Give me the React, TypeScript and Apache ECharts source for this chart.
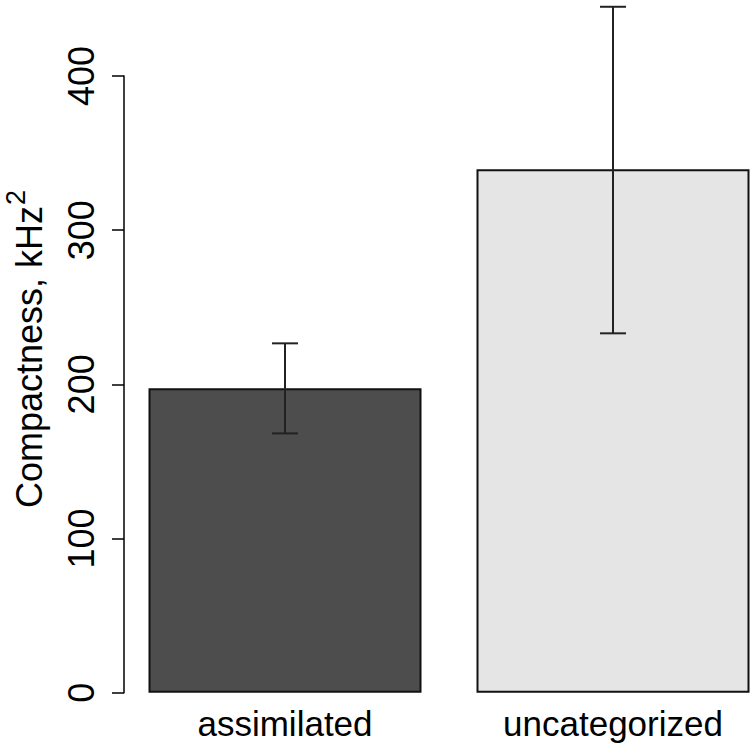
import React, { useEffect, useRef } from "react";
import * as echarts from "echarts";

const categories = ["assimilated", "uncategorized"];
const means = [197.4, 339.5];
const lowerErr = [168.2, 233.1];
const upperErr = [226.6, 444.9];
const barColors = ["#4d4d4d", "#e5e5e5"];
const yTicks = { min: 0, max: 400, interval: 100 };
const yLabel = "Compactness, kHz";
const yLabelSup = "2";

const FONT = "'Liberation Sans', Arial, sans-serif";

function measure(text: string, size: number): number {
  const c = document.createElement("canvas").getContext("2d");
  if (!c) return text.length * size * 0.5;
  c.font = `${size}px 'Liberation Sans', Arial, sans-serif`;
  return c.measureText(text).width;
}

export default function App() {
  const ref = useRef<HTMLDivElement>(null);
  useEffect(() => {
    document.body.style.margin = "0";
    document.body.style.overflow = "hidden";
    document.documentElement.style.overflow = "hidden";
    const chart = echarts.init(ref.current!, null, { renderer: "svg" });
    const labelStartY = 508;
    const mainW = measure(yLabel, 36);
    const supY = labelStartY - mainW - 1;
    chart.setOption({
      animation: false,
      backgroundColor: "#ffffff",
      grid: { left: 121, right: 0, top: 76, bottom: 58.3, containLabel: false },
      xAxis: {
        type: "category",
        data: categories,
        axisLine: { show: false },
        axisTick: { show: false },
        axisLabel: {
          color: "#000",
          fontSize: 35,
          fontFamily: FONT,
          margin: 13,
        },
        splitLine: { show: false },
      },
      yAxis: {
        type: "value",
        min: yTicks.min,
        max: yTicks.max,
        interval: yTicks.interval,
        offset: -3,
        axisLine: { show: true, lineStyle: { color: "#000", width: 1.5 } },
        axisTick: { show: true, length: 12, lineStyle: { color: "#000", width: 1.5 } },
        splitLine: { show: false },
        axisLabel: {
          color: "#000",
          fontSize: 36,
          fontFamily: FONT,
          rotate: 90,
          margin: 25,
          align: "center",
          verticalAlign: "bottom",
        },
      },
      graphic: [
        {
          type: "text",
          x: 29,
          y: labelStartY,
          rotation: Math.PI / 2,
          style: {
            text: yLabel,
            align: "left",
            verticalAlign: "middle",
            fill: "#000",
            fontSize: 36,
            fontFamily: FONT,
          },
        },
        {
          type: "text",
          x: 16,
          y: supY,
          rotation: Math.PI / 2,
          style: {
            text: yLabelSup,
            align: "left",
            verticalAlign: "middle",
            fill: "#000",
            fontSize: 27,
            fontFamily: FONT,
          },
        },
      ],
      series: [
        {
          type: "bar",
          barWidth: 273,
          data: means.map((v, i) => ({
            value: v,
            itemStyle: { color: barColors[i], borderColor: "#111", borderWidth: 2 },
          })),
        },
        {
          type: "custom",
          clip: false,
          z: 10,
          data: categories.map((_, i) => [i, lowerErr[i], upperErr[i]]),
          renderItem: (params: any, api: any) => {
            const idx = api.value(0);
            const lo = api.coord([idx, api.value(1)]);
            const hi = api.coord([idx, api.value(2)]);
            const half = 13;
            const style = { stroke: "#222", lineWidth: 2 };
            return {
              type: "group",
              children: [
                { type: "line", shape: { x1: hi[0], y1: hi[1], x2: lo[0], y2: lo[1] }, style },
                { type: "line", shape: { x1: hi[0] - half, y1: hi[1], x2: hi[0] + half, y2: hi[1] }, style },
                { type: "line", shape: { x1: lo[0] - half, y1: lo[1], x2: lo[0] + half, y2: lo[1] }, style },
              ],
            };
          },
        },
      ],
    });
    return () => chart.dispose();
  }, []);
  return <div ref={ref} style={{ width: 777, height: 751 }} />;
}
